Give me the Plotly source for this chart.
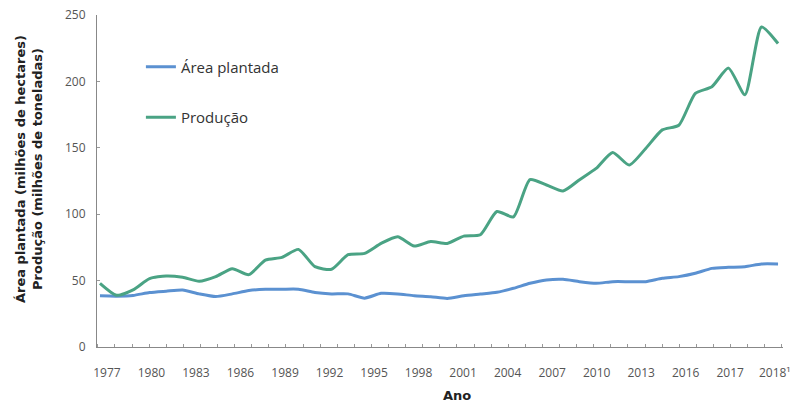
import numpy as np
import plotly.graph_objects as go

# Crop years (1976/77 ... 2017/18) labelled by final year
years = list(range(1977, 2019))

area_plantada = [38.5, 38.3, 38.8, 41.0, 42.0, 42.9, 40.0, 38.0, 40.0, 42.5,
                 43.5, 43.5, 43.5, 41.0, 40.0, 40.0, 36.8, 40.4, 40.0, 38.6,
                 37.9, 36.6, 38.6, 39.9, 41.2, 44.2, 48.0, 50.5, 51.0, 49.2,
                 48.0, 49.2, 49.2, 49.2, 51.7, 53.0, 55.5, 59.2, 60.0, 60.5,
                 62.5, 62.5]

producao = [48.0, 39.0, 43.0, 51.5, 53.5, 52.5, 49.5, 53.0, 59.0, 54.5,
            65.5, 67.5, 73.5, 60.5, 58.5, 69.5, 70.5, 78.0, 83.0, 76.0,
            79.5, 78.0, 83.5, 84.5, 102.0, 98.0, 126.0, 122.0, 117.5, 126.0,
            134.5, 146.5, 137.0, 149.5, 163.5, 167.0, 191.0, 196.0, 210.0, 190.0,
            241.0, 228.5]

tick_labels = ["1977", "1980", "1983", "1986", "1989", "1992", "1995", "1998",
               "2001", "2004", "2007", "2010", "2013", "2016", "2017", "2018¹"]

y_ticks = [0, 50, 100, 150, 200, 250]

BLUE = "#5b91d1"
GREEN = "#4aa384"
FONT = "Open Sans"
TITLE_FONT = "DejaVu Sans"

fig = go.Figure()
fig.add_trace(go.Scatter(
    x=years, y=area_plantada, mode="lines", name="Área plantada",
    line=dict(color=BLUE, width=3, shape="spline", smoothing=0.6),
    legendgroup="a"))
fig.add_trace(go.Scatter(
    x=years, y=producao, mode="lines", name="Produção",
    line=dict(color=GREEN, width=3, shape="spline", smoothing=0.6),
    legendgroup="b"))

x0, x1 = years[0], years[-1]
tickvals = list(np.linspace(x0 + 0.42, x1 - 0.2, len(tick_labels)))

fig.update_layout(
    width=797, height=405,
    margin=dict(l=97, r=14, t=15, b=58),
    paper_bgcolor="white", plot_bgcolor="white",
    font=dict(family=FONT, size=12, color="#555"),
    showlegend=True,
    legend=dict(x=0.064, y=0.893, xanchor="left", yanchor="top",
                font=dict(family=FONT, size=15, color="#333"),
                tracegroupgap=28, bgcolor="rgba(0,0,0,0)"),
    xaxis=dict(
        range=[x0 - 0.18, x1 + 0.3], automargin=False,
        tickmode="array", tickvals=tickvals, ticktext=tick_labels,
        ticks="", showgrid=False, zeroline=False,
        showline=True, linecolor="#888", linewidth=1,
        tickfont=dict(family=FONT, size=12, color="#555"),
        ticklabelstandoff=15,
        minor=dict(tickmode="linear", tick0=x0 + 0.907, dtick=1.034,
                   ticks="inside", ticklen=3, tickcolor="#999", showgrid=False),
    ),
    yaxis=dict(
        range=[0, 250], automargin=False, tickmode="array", tickvals=y_ticks,
        ticks="inside", ticklen=3, tickcolor="#999",
        showgrid=False, zeroline=False,
        showline=True, linecolor="#888", linewidth=1,
        tickfont=dict(family=FONT, size=12, color="#555"),
        ticklabelstandoff=8,
    ),
    annotations=[
        dict(text="<b>Área plantada (milhões de hectares)</b><br><b>Produção (milhões de toneladas)</b>",
             xref="paper", yref="paper", x=0, y=0.5, xanchor="center", yanchor="middle",
             xshift=-68, yshift=12, textangle=-90, showarrow=False,
             font=dict(family=TITLE_FONT, size=13, color="#222")),
        dict(text="<b>Ano</b>", xref="paper", yref="paper", x=0.525, y=0,
             xanchor="center", yanchor="middle", yshift=-48, showarrow=False,
             font=dict(family=TITLE_FONT, size=13, color="#222")),
    ],
)

fig.write_html("out.html", config={"displayModeBar": False},
               post_script="document.body.style.margin='0';document.body.style.overflow='hidden';")
